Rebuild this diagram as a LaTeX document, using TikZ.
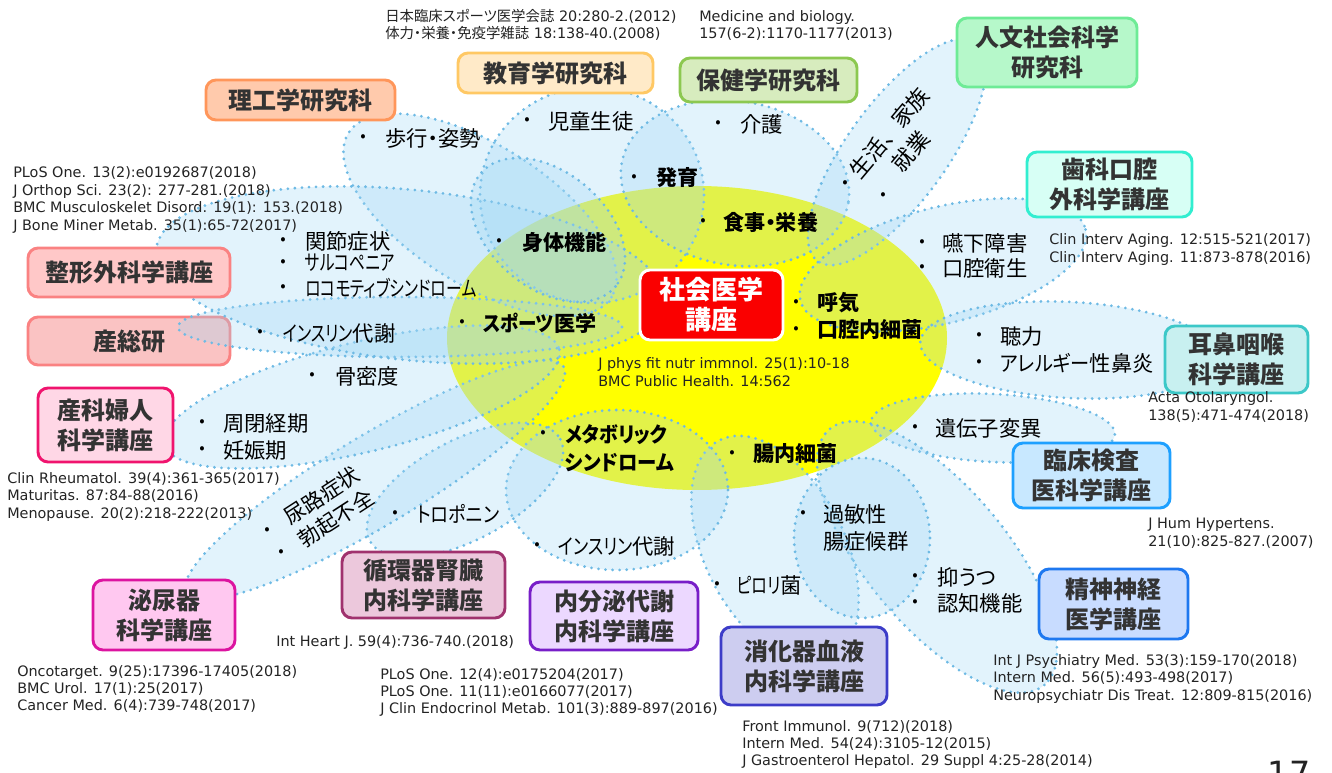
\documentclass[tikz,border=0pt]{standalone}
\usepackage{fontspec}
\usepackage{graphicx}
\setmainfont{DejaVu Sans}
\newfontfamily\jp{Noto Sans CJK JP}[CharacterWidth=AlternateProportional]
\newfontfamily\jpfull{Noto Sans CJK JP}
\definecolor{dotc}{RGB}{110,186,228}
\definecolor{petalc}{RGB}{160,215,245}
\definecolor{yel}{RGB}{255,255,0}
\definecolor{txt}{RGB}{35,35,35}
\definecolor{boxtxt}{RGB}{51,51,51}
\definecolor{rikoF}{RGB}{255,202,172}\definecolor{rikoD}{RGB}{255,150,90}
\definecolor{kyoF}{RGB}{255,234,200}\definecolor{kyoD}{RGB}{255,200,100}
\definecolor{hokF}{RGB}{215,236,190}\definecolor{hokD}{RGB}{140,200,80}
\definecolor{jinF}{RGB}{182,248,202}\definecolor{jinD}{RGB}{110,235,150}
\definecolor{shiF}{RGB}{215,255,245}\definecolor{shiD}{RGB}{50,238,208}
\definecolor{jibF}{RGB}{200,240,240}\definecolor{jibD}{RGB}{60,200,200}
\definecolor{rinF}{RGB}{200,232,255}\definecolor{rinD}{RGB}{30,160,255}
\definecolor{seiF}{RGB}{200,220,255}\definecolor{seiD}{RGB}{30,120,240}
\definecolor{shoF}{RGB}{205,205,240}\definecolor{shoD}{RGB}{60,60,200}
\definecolor{naiF}{RGB}{236,216,255}\definecolor{naiD}{RGB}{120,30,200}
\definecolor{junF}{RGB}{236,200,220}\definecolor{junD}{RGB}{160,50,110}
\definecolor{hinF}{RGB}{255,200,240}\definecolor{hinD}{RGB}{220,20,160}
\definecolor{sanF}{RGB}{255,215,230}\definecolor{sanD}{RGB}{240,20,110}
\definecolor{seikF}{RGB}{255,200,200}\definecolor{seikD}{RGB}{250,130,130}
\definecolor{soF}{RGB}{250,195,195}
\definecolor{redc}{RGB}{250,0,0}
\newcommand\petal[5]{\draw[petal, rotate around={#5:(#1,#2)}] (#1,#2) ellipse [x radius=#3, y radius=#4];}
\newcommand\bitem[5]{\node[bul] (#1b) at (#2,#3) {•};\node[itm] (#1) at (#4,#3) {#5};}
\newcommand\bbitem[6]{\node[bul] (#1b) at (#2,#3) {•};\node[bitm] (#1) at (#4,#5) {#6};}
\newcommand\kn[2]{\scalebox{#1}[1]{#2}}
\begin{document}
\begin{tikzpicture}[x=0.75pt,y=-0.75pt,
  petal/.style={fill=petalc, fill opacity=0.3, draw=dotc, line width=2.3pt, dash pattern=on 0pt off 5.3pt, line cap=round},
  box/.style={rounded corners=7.5pt, line width=2.2pt, inner sep=0pt, align=center, text=boxtxt, font=\jp\bfseries\fontsize{18}{22.5}\selectfont},
  cite/.style={anchor=west, inner sep=0pt, align=left, text=txt, font=\fontsize{10.8}{13.1}\selectfont},
  itm/.style={anchor=west, inner sep=0pt, align=left, text=black, font=\jp\fontsize{16}{20.3}\selectfont},
  bitm/.style={anchor=west, inner sep=0pt, align=left, text=black, font=\jp\bfseries\fontsize{15.8}{21}\selectfont},
  bul/.style={inner sep=0pt, text=black, font=\jp\fontsize{12}{12}\selectfont},
]
\useasboundingbox (0,0) rectangle (1332,773);
\clip (0,0) rectangle (1332,773);
% centre
\fill[yel] (697,338) ellipse [x radius=250, y radius=152];
% box under petals
\node[box, fill=soF, draw=seikD, minimum width=151.5pt, minimum height=36pt] (sansou) at (129,341) {産総研};
% petals
\petal{480}{215}{155}{70}{-32}
\petal{592}{195}{112}{108}{0}
\petal{735}{183}{115}{82}{-10}
\petal{897}{152}{135}{50}{54}
\petal{943}{265}{147}{58}{14}
\petal{1070}{350}{150}{48}{-3}
\petal{993}{428}{122}{34}{-3}
\petal{937}{557}{167}{70}{-50}
\petal{775}{550}{123}{70}{-63}
\petal{862}{538}{68}{80}{0}
\petal{617}{490}{111}{80}{0}
\petal{465}{490}{108}{50}{28}
\petal{375}{480}{220}{45}{31}
\petal{362}{397}{203}{55}{13.5}
\petal{400}{327}{222}{30}{0}
\petal{410}{275}{255}{85}{-6}
\petal{548}{230}{88}{58}{-40}
% boxes
\node[box, fill=rikoF, draw=rikoD, minimum width=141.75pt, minimum height=30pt] (riko) at (300.5,100) {理工学研究科};
\node[box, fill=kyoF, draw=kyoD, minimum width=146.25pt, minimum height=30pt] (kyoiku) at (555.5,73) {教育学研究科};
\node[box, fill=hokF, draw=hokD, minimum width=132.75pt, minimum height=33pt] (hoken) at (768.5,80) {保健学研究科};
\node[box, fill=jinF, draw=jinD, minimum width=135pt, minimum height=51.75pt] (jinbun) at (1047,52.5) {人文社会科学\\研究科};
\node[box, fill=shiF, draw=shiD, minimum width=123.75pt, minimum height=48.75pt] (shika) at (1109.5,184.5) {歯科口腔\\外科学講座};
\node[box, fill=jibF, draw=jibD, minimum width=107.25pt, minimum height=50.25pt] (jibi) at (1236.5,359.5) {耳鼻咽喉\\科学講座};
\node[box, fill=rinF, draw=rinD, minimum width=117.75pt, minimum height=48.75pt] (rinsho) at (1091.5,475.5) {臨床検査\\医科学講座};
\node[box, fill=seiF, draw=seiD, minimum width=111.75pt, minimum height=52.5pt] (seishin) at (1113.5,604) {精神神経\\医学講座};
\node[box, fill=shoF, draw=shoD, minimum width=124.5pt, minimum height=58.5pt] (shoka) at (804,666) {消化器血液\\内科学講座};
\node[box, fill=naiF, draw=naiD, minimum width=126pt, minimum height=51pt] (naibun) at (614,616) {内分泌代謝\\内科学講座};
\node[box, fill=junF, draw=junD, minimum width=122.25pt, minimum height=49.5pt] (junkan) at (423.5,585) {循環器腎臓\\内科学講座};
\node[box, fill=hinF, draw=hinD, minimum width=106.5pt, minimum height=52.5pt] (hinyo) at (164,615) {泌尿器\\科学講座};
\node[box, fill=sanF, draw=sanD, minimum width=101.25pt, minimum height=55.5pt] (sanka) at (105.5,425) {産科婦人\\科学講座};
\node[box, fill=seikF, draw=seikD, minimum width=151.5pt, minimum height=36.75pt] (seikei) at (129,272.5) {整形外科学講座};
\node[box, fill=redc, draw=white, text=white, minimum width=107.25pt, minimum height=52.5pt, font=\jp\bfseries\fontsize{19.5}{22.5}\selectfont] (center) at (711.5,305) {社会医学\\講座};
% regular items
\bitem{hoko}{363}{138}{385}{歩行・姿勢}
\bitem{jido}{527}{121}{548}{児童生徒}
\bitem{kaigo}{718}{124}{740}{介護}
\bitem{enge}{922}{243}{942}{嚥下障害}
\bitem{koku}{922}{268}{942}{口腔衛生}
\bitem{choryoku}{979}{336}{1000}{聴力}
\bitem{allergy}{979}{363}{1000}{\kn{0.9}{アレルギー}性鼻炎}
\bitem{idenshi}{915}{428}{935}{遺伝子変異}
\bitem{yokuutsu}{915}{577}{937}{抑うつ}
\bitem{ninchi}{915}{603}{937}{認知機能}
\bitem{pylori}{717}{585}{737}{\kn{0.75}{ピロリ}菌}
\bitem{insulinb}{537}{546}{558}{\kn{0.8}{インスリン}代謝}
\bitem{troponin}{395}{514}{417}{\kn{0.85}{トロポニン}}
\bitem{heikei}{202}{423}{223}{周閉経期}
\bitem{ninshin}{202}{450}{223}{妊娠期}
\bitem{kotsu}{312}{376}{335}{骨密度}
\bitem{insulina}{260}{333}{283}{\kn{0.75}{インスリン}代謝}
\bitem{kansetsu}{283}{241}{305}{関節症状}
\bitem{sarco}{283}{263}{305}{\kn{0.74}{サルコペニア}}
\bitem{locomo}{283}{288}{305}{\kn{0.74}{ロコモティブシンドローム}}
\node[bul] (kabinb) at (803,514) {•};
\node[itm] (kabin) at (823,527.5) {過敏性\\腸症候群};
% rotated items
\node[bul] (seikatsub) at (845,184) {•};
\node[bul] (shugyob) at (883,196) {•};
\node[itm, anchor=center, align=center, rotate=50, font=\jpfull\fontsize{16.5}{21}\selectfont] (seikatsu) at (900,142) {生活、家族\\就業};
\node[bul] (nyorob) at (267,531) {•};
\node[bul] (bokkib) at (281,553) {•};
\node[itm, anchor=center, align=center, rotate=33] (nyoro) at (329,507) {尿路症状\\勃起不全};
% bold items
\bbitem{shintai}{499}{242}{522}{242}{身体機能}
\bbitem{hatsuiku}{634}{178}{656}{178}{発育}
\bbitem{shokuji}{703}{222}{723}{222}{食事・栄養}
\bbitem{sports}{462}{323}{483}{323}{\kn{0.88}{スポーツ}医学}
\bbitem{koki}{796}{303}{817}{303}{呼気}
\bbitem{saikin}{796}{330}{817}{330}{口腔内細菌}
\bbitem{metabo}{543}{434}{565}{448}{\kn{0.9}{メタボリック}\\\kn{0.92}{シンドローム}}
\bbitem{chonai}{732}{454}{753}{454}{腸内細菌}
% citations
\node[cite] (c1) at (385,25) {{\jp 日本臨床スポーツ医学会誌} 20:280-2.(2012)\\{\jp 体力・栄養・免疫学雑誌} 18:138-40.(2008)};
\node[cite] (c2) at (699,25.5) {Medicine and biology.\\157(6-2):1170-1177(2013)};
\node[cite] (c3) at (13,200) {PLoS One. 13(2):e0192687(2018)\\J Orthop Sci. 23(2): 277-281.(2018)\\BMC Musculoskelet Disord. 19(1): 153.(2018)\\J Bone Miner Metab. 35(1):65-72(2017)};
\node[cite] (c4) at (1049,249.5) {Clin Interv Aging. 12:515-521(2017)\\Clin Interv Aging. 11:873-878(2016)};
\node[cite] (c5) at (598,372) {J phys fit nutr immnol. 25(1):10-18\\BMC Public Health. 14:562};
\node[cite] (c6) at (1148,407) {Acta Otolaryngol.\\138(5):471-474(2018)};
\node[cite] (c7) at (7,497) {Clin Rheumatol. 39(4):361-365(2017)\\Maturitas. 87:84-88(2016)\\Menopause. 20(2):218-222(2013)};
\node[cite] (c8) at (1148,533) {J Hum Hypertens.\\21(10):825-827.(2007)};
\node[cite] (c9) at (276,642) {Int Heart J. 59(4):736-740.(2018)};
\node[cite] (c10) at (17,689) {Oncotarget. 9(25):17396-17405(2018)\\BMC Urol. 17(1):25(2017)\\Cancer Med. 6(4):739-748(2017)};
\node[cite] (c11) at (380,692.5) {PLoS One. 12(4):e0175204(2017)\\PLoS One. 11(11):e0166077(2017)\\J Clin Endocrinol Metab. 101(3):889-897(2016)};
\node[cite] (c12) at (993,679) {Int J Psychiatry Med. 53(3):159-170(2018)\\Intern Med. 56(5):493-498(2017)\\Neuropsychiatr Dis Treat. 12:809-815(2016)};
\node[cite] (c13) at (742,744.5) {Front Immunol. 9(712)(2018)\\Intern Med. 54(24):3105-12(2015)\\J Gastroenterol Hepatol. 29 Suppl 4:25-28(2014)};
\node[inner sep=0pt, text=txt, font=\fontsize{25}{25}\selectfont] (pagenum) at (1289,773) {17};
\end{tikzpicture}
\end{document}
